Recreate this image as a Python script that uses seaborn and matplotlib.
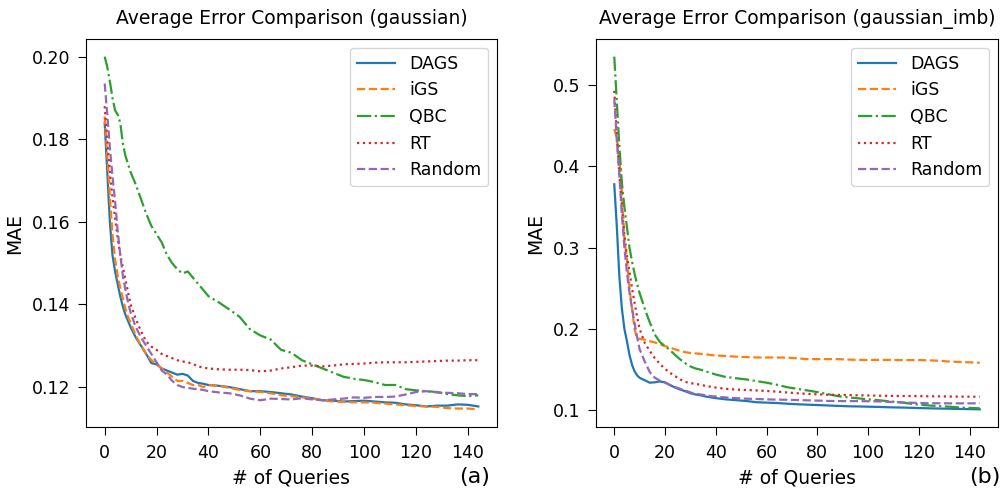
import matplotlib
matplotlib.use("Agg")
import matplotlib.pyplot as plt
import seaborn as sns
import pandas as pd

queries = [0, 1, 2, 3, 4, 5, 6, 7, 8, 9, 10, 12, 14, 16, 18, 20, 22, 24, 26, 28, 30, 32, 34, 36, 38, 40,
           44, 48, 52, 56, 60, 64, 68, 72, 76, 80, 84, 88, 92, 96, 100, 104, 108, 112, 116, 120, 124,
           128, 132, 136, 140, 144]

methods = ["DAGS", "iGS", "QBC", "RT", "Random"]

# (a) gaussian
g_dags = [0.184, 0.172, 0.160, 0.152, 0.148, 0.145, 0.142, 0.1395, 0.1375, 0.136, 0.1345, 0.132, 0.130,
          0.128, 0.1258, 0.1255, 0.1245, 0.124, 0.1235, 0.123, 0.1232, 0.1228, 0.1215, 0.121, 0.1208, 0.1205,
          0.1203, 0.120, 0.1195, 0.119, 0.119, 0.1188, 0.1185, 0.1182, 0.1177, 0.1173, 0.1168, 0.1167,
          0.1165, 0.1166, 0.1167, 0.1165, 0.1163, 0.1162, 0.1158, 0.1156, 0.1153, 0.1155, 0.1155, 0.1158,
          0.1157, 0.1153]
g_igs = [0.1855, 0.176, 0.166, 0.157, 0.151, 0.147, 0.144, 0.1415, 0.139, 0.137, 0.1355, 0.1325, 0.130,
         0.128, 0.1265, 0.1255, 0.1245, 0.1235, 0.1225, 0.1215, 0.1215, 0.121, 0.1205, 0.1205, 0.120, 0.1205,
         0.1203, 0.1198, 0.1193, 0.119, 0.1188, 0.1185, 0.118, 0.1178, 0.1175, 0.1172, 0.1168, 0.1165,
         0.1164, 0.1163, 0.1163, 0.1162, 0.116, 0.1158, 0.1156, 0.1154, 0.1153, 0.1152, 0.1149, 0.1148,
         0.1148, 0.1146]
g_qbc = [0.2000, 0.1975, 0.194, 0.190, 0.187, 0.186, 0.184, 0.179, 0.176, 0.174, 0.172, 0.169, 0.1655,
         0.162, 0.159, 0.157, 0.155, 0.152, 0.150, 0.1485, 0.1475, 0.148, 0.1465, 0.145, 0.1435, 0.142,
         0.1405, 0.1388, 0.137, 0.134, 0.1325, 0.1315, 0.129, 0.1283, 0.1265, 0.1255, 0.1245, 0.1235,
         0.1225, 0.122, 0.1217, 0.1212, 0.1205, 0.1205, 0.1195, 0.1192, 0.119, 0.1188, 0.1183, 0.118,
         0.1178, 0.1180]
g_rt = [0.188, 0.180, 0.172, 0.166, 0.161, 0.156, 0.152, 0.149, 0.146, 0.143, 0.140, 0.1365, 0.1335,
        0.131, 0.1298, 0.129, 0.128, 0.1275, 0.127, 0.1265, 0.1262, 0.126, 0.1256, 0.125, 0.1247, 0.1245,
        0.1243, 0.1242, 0.1242, 0.1241, 0.1238, 0.124, 0.1245, 0.1248, 0.1252, 0.1252, 0.125, 0.1252,
        0.1255, 0.1256, 0.1257, 0.1259, 0.126, 0.126, 0.126, 0.1261, 0.1262, 0.1263, 0.1264, 0.1264,
        0.1265, 0.1265]
g_random = [0.1935, 0.186, 0.178, 0.171, 0.165, 0.158, 0.152, 0.147, 0.1435, 0.1405, 0.138, 0.1345,
            0.132, 0.130, 0.128, 0.126, 0.124, 0.123, 0.1215, 0.1205, 0.120, 0.1198, 0.1196, 0.1195, 0.1193,
            0.119, 0.1187, 0.1185, 0.118, 0.1172, 0.1168, 0.1172, 0.1171, 0.117, 0.1173, 0.117, 0.1168,
            0.117, 0.1172, 0.1175, 0.1174, 0.1176, 0.1176, 0.1177, 0.1182, 0.1188, 0.119, 0.1187, 0.1186,
            0.1185, 0.1183, 0.1183]

# (b) gaussian_imb
i_dags = [0.378, 0.326, 0.265, 0.225, 0.200, 0.185, 0.168, 0.156, 0.148, 0.143, 0.140, 0.137, 0.134,
          0.1345, 0.1355, 0.1345, 0.131, 0.128, 0.1255, 0.1235, 0.121, 0.1195, 0.1185, 0.117, 0.116, 0.115,
          0.1135, 0.1125, 0.1115, 0.110, 0.1095, 0.109, 0.1082, 0.1075, 0.107, 0.1065, 0.106, 0.1055,
          0.105, 0.1048, 0.1045, 0.1042, 0.1038, 0.1035, 0.1032, 0.1028, 0.1025, 0.1022, 0.102, 0.1017,
          0.1015, 0.1012]
i_igs = [0.446, 0.435, 0.41, 0.37, 0.31, 0.285, 0.25, 0.225, 0.20, 0.188, 0.188, 0.187, 0.185, 0.1835,
         0.181, 0.179, 0.177, 0.175, 0.173, 0.1715, 0.1705, 0.170, 0.1695, 0.169, 0.168, 0.1675, 0.1668,
         0.166, 0.1655, 0.165, 0.165, 0.165, 0.1648, 0.164, 0.163, 0.163, 0.163, 0.163, 0.1625, 0.162,
         0.162, 0.162, 0.162, 0.1618, 0.1618, 0.1618, 0.1615, 0.161, 0.160, 0.1595, 0.159, 0.1585]
i_qbc = [0.535, 0.48, 0.425, 0.38, 0.35, 0.325, 0.30, 0.283, 0.268, 0.255, 0.244, 0.225, 0.208, 0.193,
         0.184, 0.179, 0.174, 0.168, 0.1625, 0.158, 0.154, 0.1515, 0.150, 0.148, 0.146, 0.144, 0.141,
         0.1395, 0.138, 0.136, 0.134, 0.1315, 0.1285, 0.1265, 0.1245, 0.1225, 0.12, 0.1175, 0.116, 0.1148,
         0.1135, 0.1125, 0.1112, 0.110, 0.1085, 0.107, 0.106, 0.1052, 0.1045, 0.1035, 0.103, 0.1025]
i_rt = [0.493, 0.44, 0.39, 0.35, 0.315, 0.29, 0.27, 0.25, 0.232, 0.215, 0.200, 0.183, 0.173, 0.164, 0.157,
        0.151, 0.146, 0.142, 0.138, 0.135, 0.1335, 0.1325, 0.1315, 0.130, 0.129, 0.128, 0.1265, 0.1255,
        0.125, 0.1245, 0.1238, 0.123, 0.122, 0.121, 0.1203, 0.1197, 0.1192, 0.119, 0.1188, 0.1185, 0.1183,
        0.118, 0.1178, 0.1177, 0.1176, 0.1175, 0.1173, 0.1172, 0.117, 0.1169, 0.1168, 0.1168]
i_random = [0.483, 0.432, 0.39, 0.34, 0.30, 0.269, 0.245, 0.225, 0.207, 0.190, 0.175, 0.160, 0.147,
            0.140, 0.1365, 0.134, 0.131, 0.1285, 0.1265, 0.1245, 0.122, 0.1205, 0.1195, 0.1185, 0.1175,
            0.117, 0.1158, 0.115, 0.1143, 0.114, 0.1135, 0.1132, 0.113, 0.1127, 0.1123, 0.112, 0.1116,
            0.1114, 0.1114, 0.1113, 0.1112, 0.111, 0.1105, 0.110, 0.1095, 0.109, 0.1088, 0.1087, 0.1086,
            0.1086, 0.1086, 0.1086]

colors = {"DAGS": "#1f77b4", "iGS": "#ff7f0e", "QBC": "#2ca02c", "RT": "#d62728", "Random": "#9467bd"}
styles = {"DAGS": "-", "iGS": "--", "QBC": "-.", "RT": ":", "Random": "--"}

panels = [
    ("Average Error Comparison (gaussian)", "(a)", [g_dags, g_igs, g_qbc, g_rt, g_random]),
    ("Average Error Comparison (gaussian_imb)", "(b)", [i_dags, i_igs, i_qbc, i_rt, i_random]),
]

plt.rcParams["font.family"] = ["DejaVu Sans"]
fig = plt.figure(figsize=(10.03, 4.9), dpi=100)
H = 490.0
W = 1003.0
axes = [
    fig.add_axes([86 / W, (H - 427) / H, 411 / W, 388 / H]),
    fig.add_axes([596 / W, (H - 427) / H, 402 / W, 388 / H]),
]
tag_x = [490 / W, 1001 / W]

for k, (ax, (title, tag, series)) in enumerate(zip(axes, panels)):
    for m, vals in zip(methods, series):
        df = pd.DataFrame({"q": queries, "mae": vals})
        sns.lineplot(data=df, x="q", y="mae", ax=ax, color=colors[m], linestyle=styles[m],
                     linewidth=1.6, label=m)
    ax.set_title(title, fontsize=13.5, pad=11)
    ax.set_xlabel("# of Queries", fontsize=13.5, labelpad=5)
    ax.set_ylabel("MAE", fontsize=13.5, labelpad=6)
    ax.set_xticks([0, 20, 40, 60, 80, 100, 120, 140])
    ax.tick_params(axis="both", labelsize=12.5, length=6)
    ax.tick_params(axis="x", pad=6)
    ax.tick_params(axis="y", pad=5)
    ax.legend(loc="upper right", fontsize=12.5, handlelength=2.2)
    fig.text(tag_x[k], (H - 477) / H, tag, ha="right", va="center", fontsize=16)

fig.savefig("out.png", dpi=100)
